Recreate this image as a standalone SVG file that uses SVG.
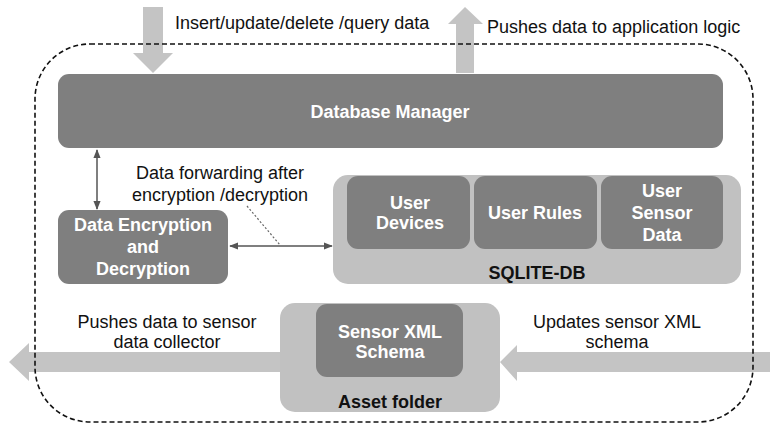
<svg xmlns="http://www.w3.org/2000/svg" width="770" height="425" viewBox="0 0 770 425">
<defs>
<style>
.dark{fill:#7f7f7f}
.light{fill:#c1c1c1}
.big{fill:#c4c4c4}
.wb{font-family:"Liberation Sans",Arial,sans-serif;font-weight:bold;font-size:18px;fill:#fff;text-anchor:middle}
.bb{font-family:"Liberation Sans",Arial,sans-serif;font-weight:bold;font-size:18px;fill:#111;text-anchor:middle}
.lbl{font-family:"Liberation Sans",Arial,sans-serif;font-size:18px;fill:#111;text-anchor:middle}
.thin{stroke:#555;stroke-width:1.5;fill:none}
</style>
<marker id="ah" viewBox="0 0 10 10" refX="9" refY="5" markerWidth="6" markerHeight="6" orient="auto-start-reverse">
<path d="M0,1 L10,5 L0,9 z" fill="#555"/>
</marker>
</defs>
<rect width="770" height="425" fill="#fff"/>
<g id="connectors">
<polygon class="big" points="143,7 163,7 163,53 173,53 153,73 133,53 143,53"/>
<polygon class="big" points="456,73 474,73 474,24 483,24 465,7 448,24 456,24"/>
<polygon class="big" points="280,352 29,352 29,343 9,362 29,381 29,372 280,372"/>
<polygon class="big" points="770,352 517,352 517,345 500,362 517,381 517,372 770,372"/>
<line class="thin" x1="97" y1="150" x2="97" y2="209" marker-start="url(#ah)" marker-end="url(#ah)"/>
<line class="thin" x1="230" y1="246" x2="332" y2="246" marker-start="url(#ah)" marker-end="url(#ah)"/>
<line x1="247" y1="206" x2="280" y2="245" stroke="#666" stroke-width="1.2" stroke-dasharray="2,2"/>
</g>
<g id="labels">
<text x="175" y="29" class="lbl" text-anchor="start" style="text-anchor:start">Insert/update/delete /query data</text>
<text x="487" y="33" class="lbl" style="text-anchor:start">Pushes data to application logic</text>
<text x="220" y="179" class="lbl">Data forwarding after</text>
<text x="220" y="201" class="lbl">encryption /decryption</text>
<text x="167" y="328" class="lbl">Pushes data to sensor</text>
<text x="167" y="348" class="lbl">data collector</text>
<text x="617" y="328" class="lbl">Updates sensor XML</text>
<text x="617" y="348" class="lbl">schema</text>
</g>
<g id="database-manager">
<rect class="dark" x="58" y="74" width="665" height="74" rx="11"/>
<text x="390" y="118" class="wb">Database Manager</text>
</g>
<g id="encryption">
<rect class="dark" x="58" y="210" width="170" height="74" rx="11"/>
<text x="143" y="231" class="wb">Data Encryption</text>
<text x="143" y="253" class="wb">and</text>
<text x="143" y="275" class="wb">Decryption</text>
</g>
<g id="sqlite-db">
<rect class="light" x="333" y="175" width="408" height="109" rx="15"/>
<text x="537" y="279" class="bb">SQLITE-DB</text>
</g>
<g id="user-devices">
<rect class="dark" x="347" y="176" width="123" height="73" rx="11"/>
<text x="410" y="209" class="wb">User</text>
<text x="410" y="229" class="wb">Devices</text>
</g>
<g id="user-rules">
<rect class="dark" x="474" y="176" width="123" height="73" rx="11"/>
<text x="535" y="219" class="wb">User Rules</text>
</g>
<g id="user-sensor-data">
<rect class="dark" x="601" y="176" width="122" height="73" rx="11"/>
<text x="662" y="197" class="wb">User</text>
<text x="662" y="219" class="wb">Sensor</text>
<text x="662" y="241" class="wb">Data</text>
</g>
<g id="asset-folder">
<rect class="light" x="280" y="303" width="220" height="109" rx="15"/>
<text x="390" y="408" class="bb">Asset folder</text>
</g>
<g id="sensor-xml-schema">
<rect class="dark" x="316" y="304" width="147" height="73" rx="11"/>
<text x="390" y="338" class="wb">Sensor XML</text>
<text x="390" y="358" class="wb">Schema</text>
</g>
<g id="boundary">
<rect x="35" y="44" width="718" height="378" rx="55" fill="none" stroke="#111" stroke-width="1.6" stroke-dasharray="5,3"/>
</g>
</svg>
